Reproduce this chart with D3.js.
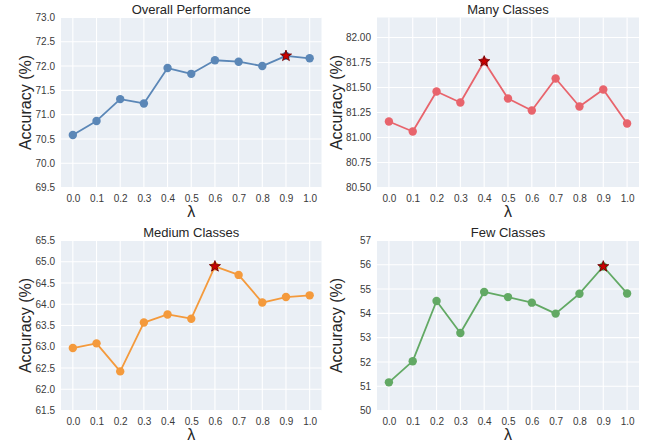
<!DOCTYPE html>
<html>
<head>
<meta charset="utf-8">
<script src="https://cdn.jsdelivr.net/npm/d3@7"></script>
<style>
  html, body { margin: 0; padding: 0; background: #ffffff; }
  svg { display: block; }
  text { font-family: "Liberation Sans", Arial, sans-serif; }
</style>
</head>
<body>
<svg id="chart" width="646" height="444"></svg>
<script>
// ---- data ----
const lambdas = [0.0, 0.1, 0.2, 0.3, 0.4, 0.5, 0.6, 0.7, 0.8, 0.9, 1.0];
const xTickLabels = ["0.0","0.1","0.2","0.3","0.4","0.5","0.6","0.7","0.8","0.9","1.0"];

const overallValues = [70.58, 70.87, 71.32, 71.23, 71.96, 71.84, 72.12, 72.09, 72.00, 72.21, 72.16];
const manyValues    = [81.16, 81.06, 81.46, 81.35, 81.76, 81.39, 81.27, 81.59, 81.31, 81.48, 81.14];
const mediumValues  = [62.97, 63.08, 62.42, 63.57, 63.76, 63.66, 64.89, 64.69, 64.04, 64.17, 64.21];
const fewValues     = [51.16, 52.03, 54.51, 53.19, 54.88, 54.67, 54.44, 53.99, 54.81, 55.93, 54.82];

const titles = ["Overall Performance", "Many Classes", "Medium Classes", "Few Classes"];
const overallTicks = [69.5, 70.0, 70.5, 71.0, 71.5, 72.0, 72.5, 73.0];
const manyTicks    = [80.50, 80.75, 81.00, 81.25, 81.50, 81.75, 82.00];
const mediumTicks  = [61.5, 62.0, 62.5, 63.0, 63.5, 64.0, 64.5, 65.0, 65.5];
const fewTicks     = [50, 51, 52, 53, 54, 55, 56, 57];

const panels = [
  { title: titles[0], values: overallValues, ticks: overallTicks, ylim: [69.5, 73.0], fmt: ".1f", color: "#5b87b7",
    box: { l: 61, r: 321.5, t: 17.5, b: 187.5 }, ylabX: 25 },
  { title: titles[1], values: manyValues, ticks: manyTicks, ylim: [80.5, 82.2], fmt: ".2f", color: "#e8646c",
    box: { l: 377, r: 639, t: 17.5, b: 187.5 }, ylabX: 336 },
  { title: titles[2], values: mediumValues, ticks: mediumTicks, ylim: [61.5, 65.5], fmt: ".1f", color: "#f49a3c",
    box: { l: 61, r: 321.5, t: 240.5, b: 410.5 }, ylabX: 25 },
  { title: titles[3], values: fewValues, ticks: fewTicks, ylim: [50, 57], fmt: "d", color: "#62a964",
    box: { l: 377, r: 639, t: 240.5, b: 410.5 }, ylabX: 336 }
];

const svg = d3.select("#chart");
const textColor = "#262626";
const tickColor = "#3a3a3a";

panels.forEach(p => {
  const b = p.box;
  const x = d3.scaleLinear().domain([-0.05, 1.05]).range([b.l, b.r]);
  const y = d3.scaleLinear().domain(p.ylim).range([b.b, b.t]);
  const g = svg.append("g");

  // background
  g.append("rect")
    .attr("x", b.l).attr("y", b.t)
    .attr("width", b.r - b.l).attr("height", b.b - b.t)
    .attr("fill", "#eaeff5");

  // grid
  g.selectAll("line.hg").data(p.ticks).enter().append("line")
    .attr("x1", b.l).attr("x2", b.r)
    .attr("y1", d => y(d)).attr("y2", d => y(d))
    .attr("stroke", "#ffffff").attr("stroke-width", 1.1);
  g.selectAll("line.vg").data(lambdas).enter().append("line")
    .attr("x1", d => x(d)).attr("x2", d => x(d))
    .attr("y1", b.t).attr("y2", b.b)
    .attr("stroke", "#ffffff").attr("stroke-width", 1.1);

  // axes (labels only)
  const yAxis = d3.axisLeft(y).tickValues(p.ticks).tickSize(0).tickPadding(6)
    .tickFormat(d3.format(p.fmt));
  const ya = g.append("g").attr("transform", `translate(${b.l},0)`).call(yAxis);
  ya.select(".domain").remove();
  ya.selectAll("text").attr("fill", tickColor).style("font-size", "10px")
    .style("font-family", '"Liberation Sans", Arial, sans-serif');

  const xAxis = d3.axisBottom(x).tickValues(lambdas).tickSize(0).tickPadding(7)
    .tickFormat((d, i) => xTickLabels[i]);
  const xa = g.append("g").attr("transform", `translate(0,${b.b})`).call(xAxis);
  xa.select(".domain").remove();
  xa.selectAll("text").attr("fill", tickColor).style("font-size", "10px")
    .style("font-family", '"Liberation Sans", Arial, sans-serif');

  // line
  const line = d3.line().x((d, i) => x(lambdas[i])).y(d => y(d));
  g.append("path").datum(p.values)
    .attr("d", line).attr("fill", "none")
    .attr("stroke", p.color).attr("stroke-width", 1.8)
    .attr("stroke-linejoin", "round");

  g.selectAll("circle.pt").data(p.values).enter().append("circle")
    .attr("cx", (d, i) => x(lambdas[i])).attr("cy", d => y(d))
    .attr("r", 4.2).attr("fill", p.color);

  // best point star
  const bestIdx = d3.maxIndex(p.values);
  g.append("path")
    .attr("d", d3.symbol().type(d3.symbolStar).size(38)())
    .attr("transform", `translate(${x(lambdas[bestIdx])},${y(p.values[bestIdx])})`)
    .attr("fill", "#cc0000").attr("stroke", "#6e0000").attr("stroke-width", 0.9);

  // title
  g.append("text")
    .attr("x", (b.l + b.r) / 2).attr("y", b.t - 4)
    .attr("text-anchor", "middle")
    .attr("fill", textColor).style("font-size", "13px")
    .text(p.title);

  // y label
  g.append("text")
    .attr("transform", `translate(${p.ylabX},${(b.t + b.b) / 2}) rotate(-90)`)
    .attr("text-anchor", "middle").attr("dy", "0.35em")
    .attr("fill", textColor).style("font-size", "16px")
    .text("Accuracy (%)");

  // x label
  g.append("text")
    .attr("x", (b.l + b.r) / 2).attr("y", b.b + 29)
    .attr("text-anchor", "middle")
    .attr("fill", textColor).style("font-size", "16px")
    .text("λ");
});
</script>
</body>
</html>
